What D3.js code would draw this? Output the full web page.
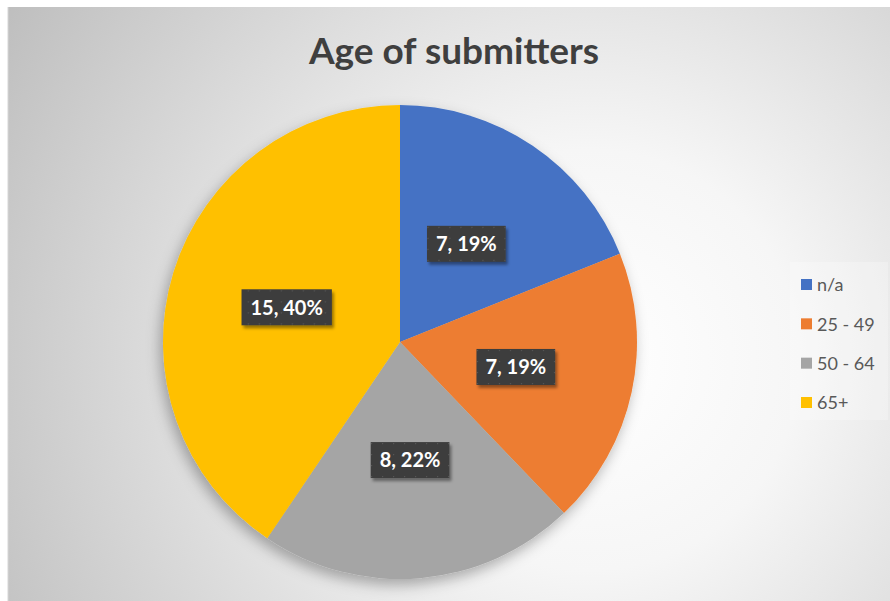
<!DOCTYPE html>
<html><head><meta charset="utf-8">
<script src="https://cdn.jsdelivr.net/npm/d3@7"></script>
<style>html,body{margin:0;padding:0;background:#fff;}svg{display:block;}</style>
</head><body>
<svg id="chart" width="890" height="601"></svg>
<script>
const categories = ["n/a", "25 - 49", "50 - 64", "65+"];
const values = [7, 7, 8, 15];
const pctLabels = ["19%", "19%", "22%", "40%"];
const colors = ["#4472C4", "#ED7D31", "#A5A5A5", "#FFC000"];
const title = "Age of submitters";

const svg = d3.select("#chart");
const W = 890, H = 601;
const defs = svg.append("defs");

const bg = defs.append("radialGradient").attr("id", "bg")
  .attr("gradientUnits", "userSpaceOnUse")
  .attr("cx", 590).attr("cy", 360).attr("r", 700);
bg.append("stop").attr("offset", 0).attr("stop-color", "#ffffff");
bg.append("stop").attr("offset", 0.3).attr("stop-color", "#f6f6f6");
bg.append("stop").attr("offset", 1).attr("stop-color", "#bcbcbc");

const sh = defs.append("filter").attr("id", "pieShadow")
  .attr("x", "-20%").attr("y", "-20%").attr("width", "140%").attr("height", "140%");
sh.append("feDropShadow").attr("dx", -3).attr("dy", 6).attr("stdDeviation", 7)
  .attr("flood-color", "#000").attr("flood-opacity", 0.3);

const lsh = defs.append("filter").attr("id", "lblShadow")
  .attr("x", "-20%").attr("y", "-30%").attr("width", "150%").attr("height", "170%");
lsh.append("feDropShadow").attr("dx", 2).attr("dy", 3).attr("stdDeviation", 1.5)
  .attr("flood-color", "#000").attr("flood-opacity", 0.4);

const pat = defs.append("pattern").attr("id", "lblPat")
  .attr("width", 11).attr("height", 11).attr("patternUnits", "userSpaceOnUse");
pat.append("rect").attr("width", 11).attr("height", 11).attr("fill", "#3c3c3c");
pat.append("rect").attr("x", 5).attr("y", 5).attr("width", 1.2).attr("height", 1.2).attr("fill", "#5a5a5a");

svg.append("rect").attr("width", W).attr("height", H).attr("fill", "#ffffff");
svg.append("rect").attr("x", 8).attr("y", 7).attr("width", W - 8).attr("height", H - 7)
  .attr("fill", "url(#bg)");
svg.append("line").attr("x1", 8).attr("x2", 8).attr("y1", 7).attr("y2", H)
  .attr("stroke", "#d6d6d6").attr("stroke-width", 1);

svg.append("text").attr("x", 454).attr("y", 64)
  .attr("text-anchor", "middle")
  .attr("font-family", "Lato, 'Open Sans', sans-serif")
  .attr("font-weight", "bold").attr("font-size", 37)
  .attr("fill", "#3f3f3f").text(title);

const cx = 400, cy = 342, R = 237;
const color = d3.scaleOrdinal().domain(categories).range(colors);
const pie = d3.pie().sort(null).value(d => d.value);
const data = categories.map((c, i) => ({ cat: c, value: values[i], pct: pctLabels[i] }));
const arcs = pie(data);
const arc = d3.arc().innerRadius(0).outerRadius(R);

const g = svg.append("g").attr("transform", `translate(${cx},${cy})`);
g.append("g").attr("filter", "url(#pieShadow)")
  .selectAll("path").data(arcs).join("path")
  .attr("d", arc).attr("fill", d => color(d.data.cat));

const lg = g.append("g");
arcs.forEach(d => {
  const [x, y] = arc.centroid(d);
  const t = `${d.data.value}, ${d.data.pct}`;
  const grp = lg.append("g").attr("transform", `translate(${x},${y})`);
  const txt = grp.append("text").attr("text-anchor", "middle").attr("dy", "0.36em")
    .attr("font-family", "Lato, 'Open Sans', sans-serif")
    .attr("font-weight", "bold").attr("font-size", 20)
    .attr("fill", "#ffffff").text(t);
  const bw = txt.node().getComputedTextLength() + 18;
  const bh = 36;
  grp.insert("rect", "text").attr("x", -bw / 2).attr("y", -bh / 2)
    .attr("width", bw).attr("height", bh)
    .attr("fill", "url(#lblPat)").attr("filter", "url(#lblShadow)");
});

const leg = svg.append("g").attr("transform", "translate(790,262)");
leg.append("rect").attr("width", 98).attr("height", 158)
  .attr("fill", "#ffffff").attr("fill-opacity", 0.25);
const ly = d3.scalePoint().domain(categories).range([23, 141]);
const items = leg.selectAll("g.item").data(categories).join("g")
  .attr("class", "item").attr("transform", d => `translate(0,${ly(d)})`);
items.append("rect").attr("x", 11).attr("y", -6).attr("width", 11).attr("height", 11)
  .attr("fill", d => color(d));
items.append("text").attr("x", 27).attr("y", 0).attr("dy", "0.36em")
  .attr("font-family", "Lato, 'Open Sans', sans-serif").attr("font-size", 18)
  .attr("fill", "#595959").text(d => d);
</script>
</body></html>
